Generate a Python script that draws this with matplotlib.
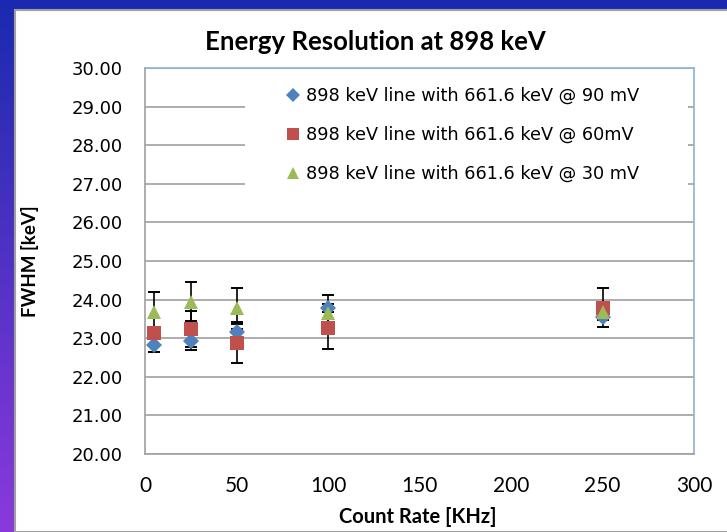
import numpy as np
import matplotlib
matplotlib.use("Agg")
import matplotlib.pyplot as plt
from matplotlib.patches import Rectangle
from matplotlib.lines import Line2D

# ---- data ----
count_rate = [5, 25, 50, 100, 250]
fwhm_90mV = [22.82, 22.93, 23.17, 23.79, 23.56]
err_90mV = [0.19, 0.24, 0.19, 0.10, 0.10]
fwhm_60mV = [23.14, 23.24, 22.88, 23.26, 23.79]
err_60mV = [0.15, 0.46, 0.53, 0.54, 0.50]
fwhm_30mV = [23.69, 23.95, 23.77, 23.64, 23.69]
err_30mV = [0.50, 0.50, 0.52, 0.48, 0.10]
labels = ["898 keV line with 661.6 keV @ 90 mV",
          "898 keV line with 661.6 keV @ 60mV",
          "898 keV line with 661.6 keV @ 30 mV"]
yticks = [20, 21, 22, 23, 24, 25, 26, 27, 28, 29, 30]
xticks = [0, 50, 100, 150, 200, 250, 300]

W, H = 727, 532
fig = plt.figure(figsize=(W / 100, H / 100), dpi=100)

# slide background gradient
bg = fig.add_axes([0, 0, 1, 1])
bg.set_axis_off()
top = np.array([26, 42, 176]) / 255
bot = np.array([138, 58, 218]) / 255
t = np.linspace(0, 1, 256)[:, None]
grad = (top[None, :] * (1 - t) + bot[None, :] * t)[:, None, :]
bg.imshow(grad, aspect='auto', extent=[0, 1, 0, 1], transform=bg.transAxes)
bg.set_xlim(0, 1); bg.set_ylim(0, 1)
bg.add_patch(Rectangle((15 / W, 0), 1, 1 - 10 / H, transform=bg.transAxes,
                       facecolor='white', edgecolor='#a0a0a0', linewidth=1.5))

ax = fig.add_axes([145 / W, 1 - 454 / H, (694 - 145) / W, (454 - 68) / H])
ax.set_xlim(0, 300)
ax.set_ylim(20, 30)
ax.set_yticks(yticks)
ax.set_yticklabels([f"{v:.2f}" for v in yticks], fontfamily='DejaVu Sans', fontsize=13)
ax.set_xticks(xticks)
ax.set_xticklabels([str(v) for v in xticks], fontfamily='Lato', fontsize=15)
ax.tick_params(length=0)
ax.tick_params(axis='x', pad=16)
ax.tick_params(axis='y', pad=16)
ax.grid(axis='y', color='#a0a0a0', linewidth=1.2, zorder=0)
ax.set_axisbelow(True)
for s in ['left', 'bottom']:
    ax.spines[s].set_color('#a0a0a0')
    ax.spines[s].set_linewidth(1.2)
for s in ['top', 'right']:
    ax.spines[s].set_color('#8eb0d8')
    ax.spines[s].set_linewidth(1.2)

# white legend area covering gridlines
ax.add_patch(Rectangle(((245 - 145) / 549 * 300, 26.7), (688 - 245) / 549 * 300, 3.0,
                       facecolor='white', edgecolor='none', zorder=1))

series = [(fwhm_90mV, err_90mV, '#4f81bd', 'D', 8.5),
          (fwhm_60mV, err_60mV, '#c0504d', 's', 10),
          (fwhm_30mV, err_30mV, '#9bbb59', '^', 10.5)]
for y, e, c, m, ms in series:
    ax.errorbar(count_rate, y, yerr=e, fmt='none', ecolor='black', elinewidth=1.2,
                capsize=4.5, capthick=1.4, zorder=2)
handles = []
for (y, e, c, m, ms), lab in zip(series, labels):
    ax.plot(count_rate, y, linestyle='none', marker=m, markersize=ms, color=c,
            markeredgewidth=0, zorder=3)
    handles.append(Line2D([], [], linestyle='none', marker=m, markersize=ms * 0.85,
                          color=c, markeredgewidth=0))

leg = ax.legend(handles, labels, loc='upper left',
                bbox_to_anchor=(287 / W, 1 - 87 / H), bbox_transform=fig.transFigure,
                frameon=False, prop={'family': 'DejaVu Sans', 'size': 12.7},
                handlelength=0.7, handletextpad=0.4, labelspacing=1.19,
                borderpad=0, borderaxespad=0)
leg.set_zorder(4)

fig.text(375 / W, 1 - 42 / H, "Energy Resolution at 898 keV", ha='center', va='center',
         fontfamily='Lato', fontweight='bold', fontsize=18.5)
fig.text(418 / W, 1 - 517 / H, "Count Rate [KHz]", ha='center', va='center',
         fontfamily='Lato', fontweight='bold', fontsize=14.5)
fig.text(30 / W, 1 - 261 / H, "FWHM [keV]", ha='center', va='center', rotation=90,
         fontfamily='Lato', fontweight='bold', fontsize=13.5)

fig.savefig('out.png', dpi=100)
